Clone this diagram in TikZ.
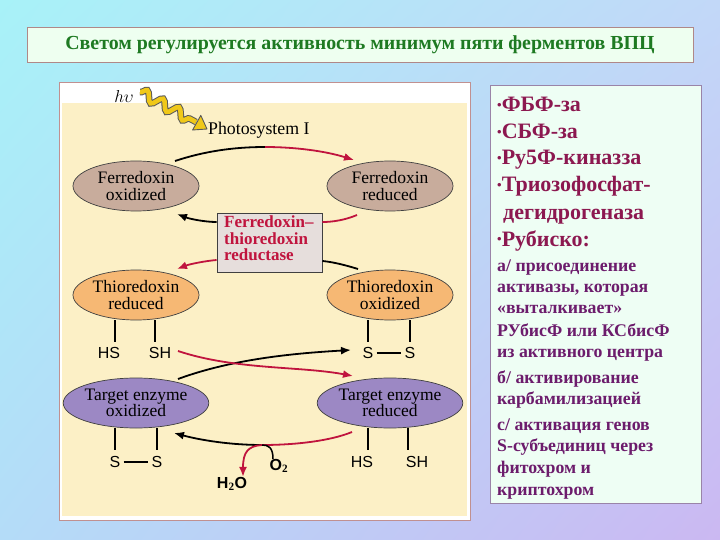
\documentclass[tikz,border=0pt]{standalone}
\usepackage{fontspec}
\setmainfont{Liberation Serif}
\newfontfamily\sansf{Liberation Sans}
\usetikzlibrary{arrows.meta,shapes.geometric,decorations.pathmorphing,shadings}
\definecolor{bgA}{HTML}{A8F2F8}
\definecolor{bgB}{HTML}{C2D8F8}
\definecolor{bgC}{HTML}{B4DCF8}
\definecolor{bgD}{HTML}{CBB8F2}
\definecolor{titlefill}{HTML}{EEFFF0}
\definecolor{titleborder}{HTML}{B08888}
\definecolor{titletext}{HTML}{1E7A22}
\definecolor{cream}{HTML}{FCF0C6}
\definecolor{framecol}{HTML}{C09090}
\definecolor{tan}{HTML}{C8AC9C}
\definecolor{orng}{HTML}{F6B874}
\definecolor{purp}{HTML}{9C88C4}
\definecolor{crim}{HTML}{C0143E}
\definecolor{boxfill}{HTML}{E6DEDC}
\definecolor{rfill}{HTML}{EEFEF4}
\definecolor{rborder}{HTML}{9A84A8}
\definecolor{bultext}{HTML}{8C1850}
\definecolor{subtext}{HTML}{6C1C6C}
\definecolor{wavey}{HTML}{F0C818}
\newcommand\mybul{{\fontsize{13}{13}\selectfont\raisebox{2pt}{•}}}
\begin{document}
\begin{tikzpicture}[x=1pt,y=-1pt,
  ell/.style={ellipse, draw=black!75, line width=0.7pt, minimum width=126pt, minimum height=50pt,
    inner sep=0pt, align=center, font=\fontsize{17.5}{16.6}\selectfont},
  conn/.style={line width=1.8pt},
  tip/.style={-{Latex[length=10pt,width=8pt]}},
  lab/.style={font=\sansf\fontsize{16}{16}\selectfont, inner sep=0pt},
  bl/.style={anchor=base west, inner sep=0pt, text=bultext, font=\bfseries\fontsize{22}{22}\selectfont},
  sl/.style={anchor=base west, inner sep=0pt, text=subtext, font=\bfseries\fontsize{17.8}{18}\selectfont}]
\useasboundingbox (0,0) rectangle (720,540);
\shade[upper left=bgA, upper right=bgB, lower left=bgC, lower right=bgD] (0,0) rectangle (720,540);

% title
\node[draw=titleborder, fill=titlefill, line width=0.6pt, minimum width=666pt, minimum height=35pt,
  inner sep=0pt, text=titletext, font=\bfseries\fontsize{19.9}{20}\selectfont] (title) at (360,44.5)
  {Светом регулируется активность минимум пяти ферментов ВПЦ};

% left panel
\draw[framecol, fill=white, line width=0.6pt] (59,82) rectangle (470,520);
\fill[cream] (62,103) rectangle (467,516);

% right box
\draw[rborder, fill=rfill, line width=0.8pt] (490,85) rectangle (701,503);

% h nu and wavy arrow
\node[inner sep=0pt, font=\fontsize{16}{16}\selectfont] (hv) at (124,97) {$h\upsilon$};
\draw[decorate, decoration={snake, amplitude=5pt, segment length=18pt}, line width=6.6pt, black!65]
  (140,92) -- (196,122);
\draw[decorate, decoration={snake, amplitude=5pt, segment length=18pt}, line width=4.6pt, wavey]
  (140,92) -- (196,122);
\filldraw[fill=wavey, draw=black!65, line width=0.9pt, line join=round]
  (207,129) -- (192.6,130) -- (200.8,115.4) -- cycle;
\node[anchor=west, inner sep=0pt, font=\fontsize{17.8}{18}\selectfont] (ps) at (208,130) {Photosystem I};

% ellipses
\node[ell, fill=tan] (fo) at (136,186) {Ferredoxin\\oxidized};
\node[ell, fill=tan] (fr) at (390,186) {Ferredoxin\\reduced};
\node[ell, fill=orng] (tr) at (136,295) {Thioredoxin\\reduced};
\node[ell, fill=orng] (tox) at (390,295) {Thioredoxin\\oxidized};
\node[ell, fill=purp] (teo) at (136,403) {Target enzyme\\oxidized};
\node[ell, fill=purp] (ter) at (390,403) {Target enzyme\\reduced};

% FTR box
\node[draw=black!75, fill=boxfill, line width=0.9pt, minimum width=105pt, minimum height=59pt,
  inner sep=0pt] (ftr) at (269.5,242.5) {};
\node[anchor=north west, inner sep=0pt, align=left, text=crim,
  font=\bfseries\fontsize{17}{16.2}\selectfont] (ftrt) at (224,216) {Ferredoxin–\\thioredoxin\\reductase};

% top arc
\coordinate (a1) at (175,161); \coordinate (a2) at (265,147); \coordinate (a3) at (354,160);
\draw[conn, black] (a1) .. controls (205,151) and (235,147) .. (a2);
\draw[conn, crim, tip] (a2) .. controls (295,147) and (325,151) .. (a3);

% ferredoxin reduced -> box -> ferredoxin oxidized
\coordinate (b1) at (357,215); \coordinate (b2) at (ftr.east |- 0,222); \coordinate (b3) at (ftr.west |- 0,222);
\coordinate (b4) at (177,214);
\draw[conn, crim] (b1) .. controls (345,220) and (333,222) .. (b2);
\draw[conn, black, tip] (b3) .. controls (205,222) and (190,219) .. (b4);

% thioredoxin oxidized -> box -> thioredoxin reduced
\coordinate (c1) at (358,269); \coordinate (c2) at (ftr.east |- 0,261); \coordinate (c3) at (ftr.west |- 0,260);
\coordinate (c4) at (177,269);
\draw[conn, black] (c1) .. controls (345,265) and (333,262) .. (c2);
\draw[conn, crim, tip] (c3) .. controls (205,261) and (190,264) .. (c4);

% thioredoxin side groups
\draw[line width=1.4pt] (tr.south -| 115,0) -- (115,342);
\draw[line width=1.4pt] (tr.south -| 155,0) -- (155,342);
\node[lab] (hs1) at (109,353) {HS};
\node[lab] (sh1) at (160,353) {SH};
\draw[line width=1.4pt] (tox.south -| 368,0) -- (368,342);
\draw[line width=1.4pt] (tox.south -| 410,0) -- (410,342);
\node[lab] (s1) at (368,353) {S};
\node[lab] (s2) at (410,353) {S};
\draw[line width=1.6pt, shorten <=3pt, shorten >=3pt] (s1) -- (s2);

% crossing arrows
\coordinate (d1) at (178,351); \coordinate (d2) at (353,376);
\coordinate (e1) at (178,379); \coordinate (e2) at (351,350);
\draw[conn, black, tip] (e1) .. controls (235,358) and (300,353) .. (e2);
\draw[conn, crim, tip] (d1) .. controls (235,370) and (300,366) .. (d2);

% target enzyme side groups
\draw[line width=1.4pt] (teo.south -| 115,0) -- (115,450);
\draw[line width=1.4pt] (teo.south -| 157,0) -- (157,450);
\node[lab] (s3) at (115,462) {S};
\node[lab] (s4) at (157,462) {S};
\draw[line width=1.6pt, shorten <=3pt, shorten >=3pt] (s3) -- (s4);
\draw[line width=1.4pt] (ter.south -| 368,0) -- (368,450);
\draw[line width=1.4pt] (ter.south -| 408,0) -- (408,450);
\node[lab] (hs2) at (362,462) {HS};
\node[lab] (sh2) at (417,462) {SH};

% bottom arc
\coordinate (f1) at (352,432); \coordinate (f2) at (262,445); \coordinate (f3) at (174,433);
\node[lab, font=\sansf\bfseries\fontsize{16}{16}\selectfont] (o2) at (279,466) {O$_{\mathbf 2}$};
\node[lab, font=\sansf\bfseries\fontsize{16}{16}\selectfont] (h2o) at (232,484) {H$_{\mathbf 2}$O};
\draw[conn, crim] (f1) .. controls (330,441) and (295,445) .. (f2);
\draw[conn, black, tip] (f2) .. controls (230,445) and (200,440) .. (f3);
\draw[conn, crim, tip] (f2) .. controls (248,446) and (243,452) .. (h2o.north -| 243,0);
\draw[line width=1.5pt, black] (o2.north -| 273,0) .. controls (273,447) and (268,445) .. (f2);

% right text
\node[bl] (r1) at (497,112) {\mybul ФБФ-за};
\node[bl] (r2) at (497,139) {\mybul СБФ-за};
\node[bl] (r3) at (497,165) {\mybul Ру5Ф-киназза};
\node[bl] (r4) at (497,192) {\mybul Триозофосфат-};
\node[bl] (r5) at (503,219) {дегидрогеназа};
\node[bl] (r6) at (497,246) {\mybul Рубиско:};
\node[sl] (t1) at (497,271) {а/ присоединение};
\node[sl] (t2) at (497,292) {активазы, которая};
\node[sl] (t3) at (497,313) {«выталкивает»};
\node[sl] (t4) at (497,336) {РУбисФ или КСбисФ};
\node[sl] (t5) at (497,357) {из активного центра};
\node[sl] (t6) at (497,383) {б/ активирование};
\node[sl] (t7) at (497,404) {карбамилизацией};
\node[sl] (t8) at (497,430) {с/ активация генов};
\node[sl] (t9) at (497,451) {S-субъединиц через};
\node[sl] (t10) at (497,473) {фитохром и};
\node[sl] (t11) at (497,495) {криптохром};
\end{tikzpicture}
\end{document}
